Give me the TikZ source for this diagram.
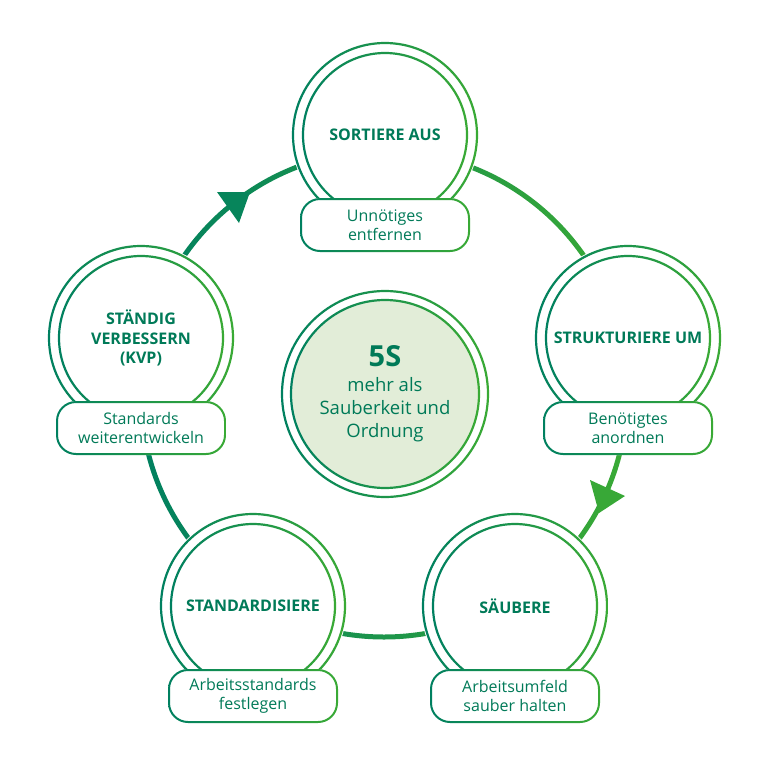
\documentclass[tikz,border=0pt]{standalone}
\usepackage{fontspec}
\setmainfont{Open Sans}
\definecolor{cdark}{RGB}{0,128,96}
\definecolor{clight}{RGB}{58,170,53}
\definecolor{ctext}{RGB}{0,122,88}
\definecolor{cfill}{RGB}{226,237,216}
\tikzset{
  gshade/.style={left color=cdark,right color=clight,even odd rule},
  titletext/.style={text=ctext,font=\bfseries\fontsize{16}{19.5}\selectfont,align=center,inner sep=0pt},
  subtext/.style={text=ctext,font=\fontsize{16}{19}\selectfont,align=center,inner sep=0pt},
  centertitle/.style={text=ctext,font=\bfseries\fontsize{29}{30}\selectfont,inner sep=0pt},
  centertext/.style={text=ctext,font=\fontsize{18.5}{23}\selectfont,align=center,inner sep=0pt},
}
\newcommand\gcirc[3]{\shade[gshade] (#1) circle[radius=#2+#3] (#1) circle[radius=#2-#3];}
\newcommand\stepunit[5]{%
  \fill[white] (#2,#3) circle[radius=94];
  \gcirc{#2,#3}{92}{1.1}
  \gcirc{#2,#3}{82}{1.1}
  \fill[white,rounded corners=20pt] (#2-85,#3+63) rectangle (#2+85,#3+117);
  \shade[gshade] [rounded corners=20pt] (#2-85,#3+63) rectangle (#2+85,#3+117)
     [rounded corners=18pt] (#2-83,#3+65) rectangle (#2+83,#3+115);
  \node[titletext] (#1t) at (#2,#3) {#4};
  \node[subtext] (#1s) at (#2,#3+90) {#5};
}
\begin{document}
\begin{tikzpicture}[x=1pt,y=-1pt]
\useasboundingbox (0,0) rectangle (768,768);
% main cycle ring
\shade[left color=cdark,right color=clight,even odd rule]
  (384,394) circle[radius=245.5] (384,394) circle[radius=240.5];
% arrowheads
\fill[cdark!88!clight] (250,192) -- (217,192) -- (239,223) -- cycle;
\fill[clight!96!cdark] (599,513) -- (590,480) -- (625,496) -- cycle;
% steps
\stepunit{s1}{385}{135}{SORTIERE AUS}{Unnötiges\\entfernen}
\stepunit{s2}{628}{338}{STRUKTURIERE UM}{Benötigtes\\anordnen}
\stepunit{s3}{515}{606}{SÄUBERE}{Arbeitsumfeld\\sauber halten}
\stepunit{s4}{253}{606}{STANDARDISIERE}{Arbeitsstandards\\festlegen}
\stepunit{s5}{141}{338}{STÄNDIG\\VERBESSERN\\(KVP)}{Standards\\weiterentwickeln}
% center
\gcirc{385,394}{103}{1.1}
\fill[cfill] (385,394) circle[radius=94];
\gcirc{385,394}{94}{1.1}
\node[centertitle] (fives) at (385,356) {5S};
\node[centertext] (cdesc) at (385,410) {mehr als\\Sauberkeit und\\Ordnung};
\end{tikzpicture}
\end{document}
